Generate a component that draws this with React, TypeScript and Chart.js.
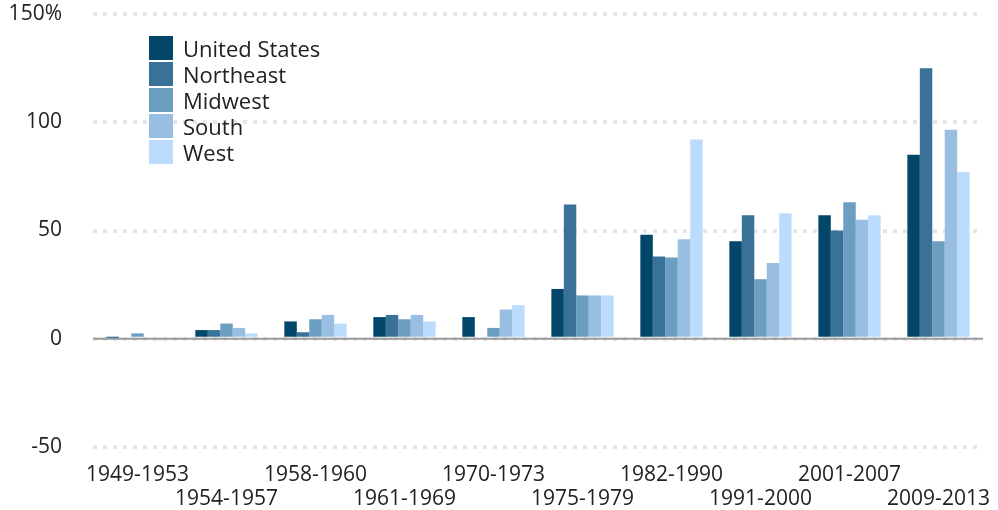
import React, { useEffect, useRef } from "react";
import { Chart, registerables } from "chart.js";

Chart.register(...registerables);

const categories = [
  "1949-1953", "1954-1957", "1958-1960", "1961-1969", "1970-1973",
  "1975-1979", "1982-1990", "1991-2000", "2001-2007", "2009-2013",
];
const unitedStates = [0.5, 4, 8, 10, 10, 23, 48, 45, 57, 85];
const northeast = [0, 4, 3, 11, 0, 62, 38, 57, 50, 125];
const midwest = [2.5, 7, 9, 9, 5, 20, 37.5, 27.5, 63, 45];
const south = [0, 5, 11, 11, 13.5, 20, 46, 35, 55, 96.5];
const west = [-1, 2.5, 7, 8, 15.5, 20, 92, 58, 57, 77];

const seriesNames = ["United States", "Northeast", "Midwest", "South", "West"];
const seriesColors = ["#02466a", "#397296", "#6c9ec2", "#98bee2", "#bcdcfe"];
const yTicks = [-50, 0, 50, 100, 150];

const FONT = "'Open Sans', Lato, sans-serif";

const zeroLine = {
  id: "zeroLine",
  beforeDatasetsDraw(chart: any) {
    const y = chart.scales.y.getPixelForValue(0);
    const { left, right } = chart.chartArea;
    const ctx = chart.ctx;
    ctx.save();
    ctx.strokeStyle = "#9a9a9a";
    ctx.lineWidth = 2;
    ctx.beginPath();
    ctx.moveTo(left, y);
    ctx.lineTo(right, y);
    ctx.stroke();
    ctx.restore();
  },
};

export default function App() {
  const ref = useRef<HTMLCanvasElement | null>(null);

  useEffect(() => {
    if (!ref.current) return;
    const data = [unitedStates, northeast, midwest, south, west];
    const chart = new Chart(ref.current, {
      type: "bar",
      data: {
        labels: categories,
        datasets: data.map((d, i) => ({
          label: seriesNames[i],
          data: d,
          backgroundColor: seriesColors[i],
          borderWidth: 0,
          categoryPercentage: 0.7,
          barPercentage: 1,
        })),
      },
      plugins: [zeroLine],
      options: {
        animation: false,
        responsive: false,
        maintainAspectRatio: false,
        layout: { padding: { top: 14, right: 15, left: 0, bottom: 0 } },
        plugins: {
          legend: { display: false },
          tooltip: { enabled: false },
        },
        scales: {
          x: {
            grid: { display: false, drawTicks: false },
            border: { display: false },
            ticks: {
              autoSkip: false,
              maxRotation: 0,
              minRotation: 0,
              padding: 16,
              color: "#222",
              font: { family: FONT, size: 21, lineHeight: "24px" },
              callback: (_v: any, i: number) =>
                i % 2 === 0 ? categories[i] : ["", categories[i]],
            },
            afterFit: (s: any) => {
              s.height = 63;
              s.paddingLeft = 0;
              s.paddingRight = 0;
            },
          },
          y: {
            min: -50,
            max: 150,
            afterBuildTicks: (s: any) => {
              s.ticks = yTicks.map((v) => ({ value: v }));
            },
            grid: {
              drawTicks: true,
              tickLength: 31,
              tickColor: "rgba(0,0,0,0)",
              color: "#e6e6e6",
              lineWidth: 4,
            },
            border: { display: false, dash: [4, 6] },
            ticks: {
              padding: 0,
              color: "#222",
              font: { family: FONT, size: 21 },
              callback: (v: any) => (v === 150 ? "150%" : String(v)),
            },
            afterFit: (s: any) => {
              s.width = 93;
            },
          },
        },
      },
    } as any);
    return () => chart.destroy();
  }, []);

  return (
    <div style={{ position: "absolute", left: 0, top: 0, width: 998, height: 510, background: "#fff" }}>
      <canvas ref={ref} width={998} height={510} style={{ display: "block" }} />
      <div style={{ position: "absolute", left: 149, top: 36, fontFamily: FONT, fontSize: 22, color: "#222" }}>
        {seriesNames.map((n, i) => (
          <div key={n} style={{ display: "flex", alignItems: "center", height: 24, marginBottom: 2 }}>
            <span style={{ width: 24, height: 24, background: seriesColors[i], display: "inline-block" }} />
            <span style={{ marginLeft: 10, lineHeight: "24px" }}>{n}</span>
          </div>
        ))}
      </div>
    </div>
  );
}
